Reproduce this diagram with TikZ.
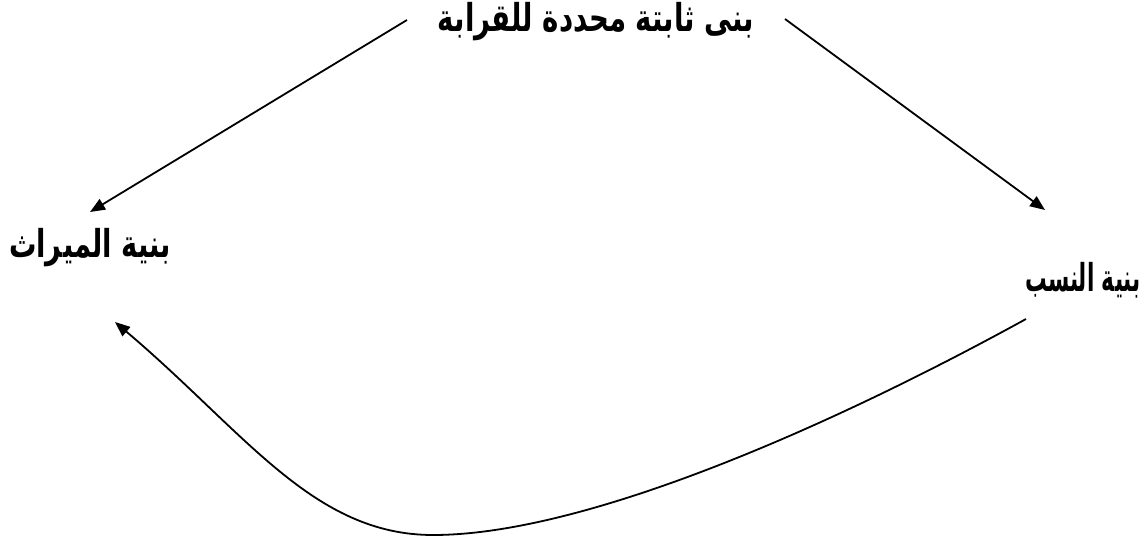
\documentclass[tikz,border=0pt]{standalone}
\usepackage{fontspec}
\usetikzlibrary{arrows.meta,calc}
\TeXXeTstate=1
\newfontfamily\arabicfont[Script=Arabic]{DejaVu Sans}
\begin{document}
\begin{tikzpicture}[x=1pt,y=-1pt,
  lbl/.style={inner sep=0pt,font=\arabicfont\bfseries\fontsize{24}{28}\selectfont},
  conn/.style={line width=1.8pt,-{Triangle[length=15pt,width=12pt]}}]
\useasboundingbox (0,0) rectangle (1146,543);
\node[lbl] (top) at (596,22) {\scalebox{1.15}[1.6]{\beginR بنى ثابتة محددة للقرابة\endR}};
\node[lbl] (left) at (90,248) {\scalebox{1.14}[1.6]{\beginR بنية الميراث\endR}};
\node[lbl] (right) at (1083,280) {\scalebox{0.9}[1.6]{\beginR بنية النسب\endR}};
\draw[conn] ($(top.center)+(-189,-2)$) -- ($(left.center)+(0,-36)$);
\draw[conn] ($(top.center)+(189,-3)$) -- ($(right.center)+(-38,-70)$);
\draw[conn] ($(right.center)+(-57,39)$) .. controls (826,429) and (583,535) .. (433,535)
  .. controls (313,535) and (245,432) .. ($(left.center)+(25,74)$);
\end{tikzpicture}
\end{document}
